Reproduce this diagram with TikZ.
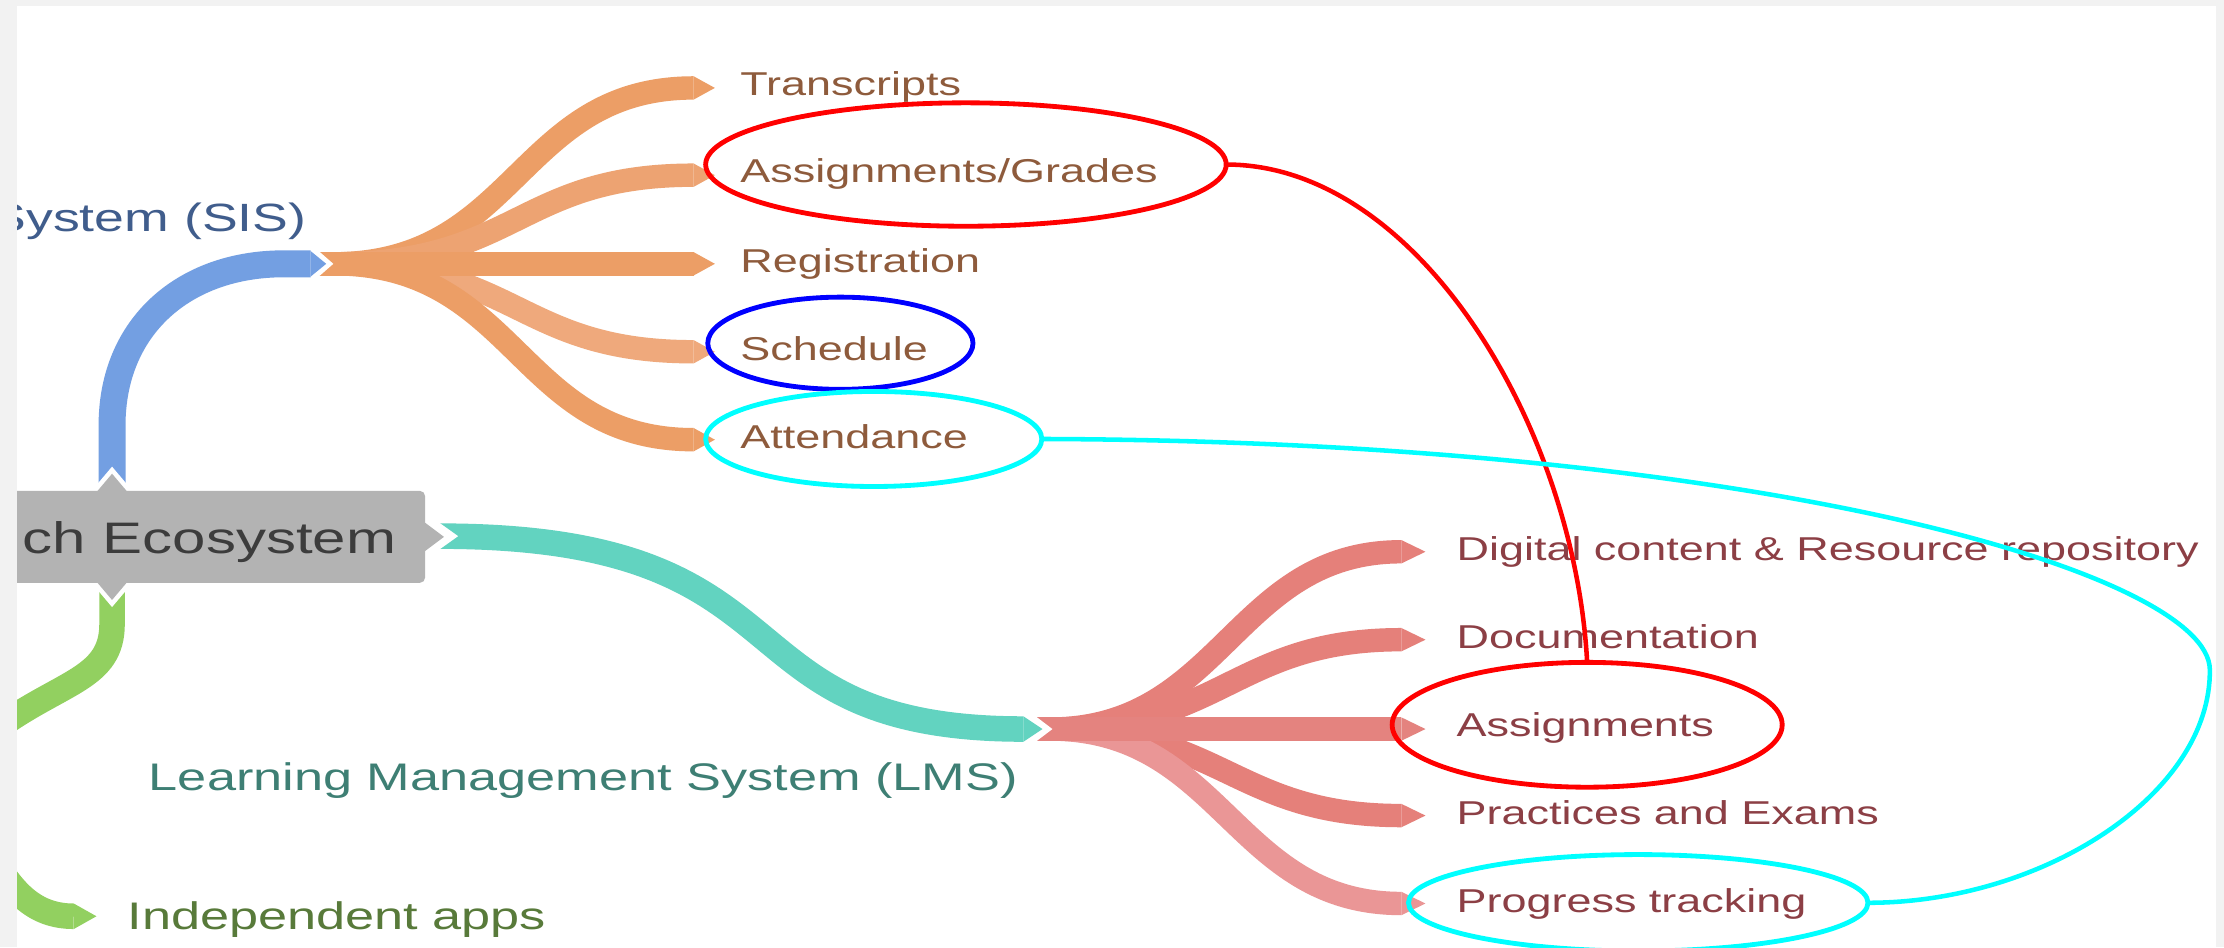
\documentclass[tikz,border=0pt]{standalone}
\usepackage{fontspec}
\setmainfont{Liberation Sans}[FakeStretch=1.36]
\usetikzlibrary{shapes.geometric,calc}
\definecolor{bggray}{HTML}{F2F2F2}
\definecolor{sisblue}{HTML}{739FE2}
\definecolor{orangeA}{HTML}{EC9E66}
\definecolor{orangeB}{HTML}{EDA372}
\definecolor{orangeC}{HTML}{EFA97C}
\definecolor{tealA}{HTML}{62D3C0}
\definecolor{greenA}{HTML}{92D060}
\definecolor{salmonA}{HTML}{E5807A}
\definecolor{salmonB}{HTML}{E4837F}
\definecolor{salmonC}{HTML}{EA9696}
\definecolor{boxgray}{HTML}{B3B3B3}
\definecolor{txtsis}{HTML}{405D8C}
\definecolor{txtorange}{HTML}{8E5B3C}
\definecolor{txtbox}{HTML}{3C3C3C}
\definecolor{txtlms}{HTML}{3E7F74}
\definecolor{txtgreen}{HTML}{587A3A}
\definecolor{txtred}{HTML}{8C3F45}
\definecolor{cyanmark}{HTML}{00FFFF}
\newcommand\tipat[4]{\fill[#1] ([yshift=-#3]#2) -- ([xshift=#4]#2) -- ([yshift=#3]#2) -- cycle;}
\tikzset{
  lbl/.style={inner sep=0pt, outer sep=0pt},
  leafo/.style={lbl, anchor=base west, text=txtorange, font=\fontsize{23.3pt}{28pt}\selectfont},
  leafr/.style={lbl, anchor=base west, text=txtred, font=\fontsize{23.3pt}{28pt}\selectfont},
  ring/.style={ellipse, draw, line width=3.4pt, inner sep=0pt, outer sep=0pt},
  link/.style={line width=3.2pt},
  limb/.style={line width=#1, line cap=butt},
}
\begin{document}
\begin{tikzpicture}[x=1pt,y=-1pt]
\useasboundingbox (0,0) rectangle (1568,668);
\fill[bggray] (0,0) rectangle (1568,668);
\fill[white] (12,4) rectangle (1562,668);
\begin{scope}
\clip (12,4) rectangle (1562,668);
% ---------- coordinates ----------
\coordinate (sisRoot) at (224,186);
\coordinate (o1) at (489,62);
\coordinate (o2) at (489,123.5);
\coordinate (o3) at (489,186);
\coordinate (o4) at (489,248);
\coordinate (o5) at (489,310);
\coordinate (blueStart) at (79,341);
\coordinate (blueEnd) at (219,186);
\coordinate (tealStart) at (310,378);
\coordinate (tealEnd) at (721.5,514);
\coordinate (redRoot) at (728.5,514);
\coordinate (r1) at (988,389);
\coordinate (r2) at (988,451);
\coordinate (r3) at (988,514);
\coordinate (r4) at (988,575);
\coordinate (r5) at (988,637);
\coordinate (greenStart) at (79,416);
% ---------- orange fan (SIS) ----------
\foreach \e/\c in {o1/orangeA,o2/orangeB,o4/orangeC,o5/orangeA}{
  \draw[limb=16.5, \c] (sisRoot) -- ++(11,0) .. controls ($(sisRoot)+(141,0)$) and ($(\e)+(-124,0)$) .. (\e);
  \tipat{\c}{\e}{8.25}{15}
}
\draw[limb=16.5, orangeA] (sisRoot) -- (o3);
\tipat{orangeA}{o3}{8.25}{15}
\fill[white] (223,175.5) -- (235,186) -- (223,196.5) -- cycle;
% ---------- blue branch ----------
\draw[limb=19, sisblue] (blueStart) -- ++(0,-41) .. controls (79,230) and (130,186) .. (200,186) -- (blueEnd);
\tipat{sisblue}{blueEnd}{9}{11}
\fill[white] (68,342) -- (79,329) -- (90,342) -- cycle;
% ---------- green branches ----------
\draw[limb=18, greenA] (greenStart) -- ++(0,24) .. controls (79,478) and (45,480) .. (0,512);
\fill[white] (68,415) -- (79,428) -- (90,415) -- cycle;
\coordinate (greenEnd) at (52,646);
\draw[limb=18, greenA] (-5,605) .. controls (10,630) and (25,646) .. (greenEnd);
\tipat{greenA}{greenEnd}{9}{16}
% ---------- red fan (LMS) ----------
\foreach \e/\c in {r1/salmonA,r2/salmonA,r4/salmonA,r5/salmonC}{
  \draw[limb=16.5, \c] (redRoot) -- ++(11.5,0) .. controls ($(redRoot)+(133.5,0)$) and ($(\e)+(-118,0)$) .. (\e);
  \tipat{\c}{\e}{8.25}{17}
}
\draw[limb=16.5, salmonB] (redRoot) -- (r3);
\tipat{salmonB}{r3}{8.25}{17}
\fill[white] (727.5,503) -- (742,514) -- (727.5,525) -- cycle;
% ---------- teal branch ----------
\draw[limb=18, tealA] (tealStart) .. controls (580,378) and (500,514) .. (tealEnd);
\tipat{tealA}{tealEnd}{9}{13.5}
\fill[white] (309,368) -- (323,378) -- (309,388) -- cycle;
% ---------- central box ----------
\node[fill=boxgray, rounded corners=4pt, anchor=east, minimum width=320pt, minimum height=65pt, inner sep=0pt] (eco) at (300,378.5) {};
\fill[boxgray] (68,347) -- (79,334) -- (90,347) -- cycle;
\fill[boxgray] (68,410) -- (79,423) -- (90,410) -- cycle;
\fill[boxgray] (299,368) -- (313,378.5) -- (299,389) -- cycle;
\node[lbl, anchor=base west, text=txtbox, font=\fontsize{31.1pt}{36pt}\selectfont] (ecoLabel) at (16,390) {ch Ecosystem};
% ---------- labels ----------
\node[lbl, anchor=base east, text=txtsis, font=\fontsize{27.8pt}{32pt}\selectfont] (sisLabel) at (216,163.3) {System (SIS)};
\node[lbl, anchor=base west, text=txtlms, font=\fontsize{27.1pt}{32pt}\selectfont] (lmsLabel) at (105,557.5) {Learning Management System (LMS)};
\node[lbl, anchor=base west, text=txtgreen, font=\fontsize{27.1pt}{32pt}\selectfont] (indLabel) at (90,655) {Independent apps};
\node[leafo] (lTrans) at (522,67.5) {Transcripts};
\node[leafo] (lGrades) at (522,129) {Assignments/Grades};
\node[leafo] (lReg) at (522,192) {Registration};
\node[leafo] (lSched) at (522,254.5) {Schedule};
\node[leafo] (lAttend) at (522,316) {Attendance};
\node[leafr] (lDigital) at (1027,395) {Digital content \& Resource repository};
\node[leafr] (lDoc) at (1027,457) {Documentation};
\node[leafr] (lAssign) at (1027,519) {Assignments};
\node[leafr] (lPract) at (1027,581) {Practices and Exams};
\node[leafr] (lProg) at (1027,643) {Progress tracking};
% ---------- annotation rings ----------
\node[ring, draw=red, minimum width=367pt, minimum height=87pt] (ringGrades) at (681,116) {};
\node[ring, draw=blue, minimum width=187pt, minimum height=65pt] (ringSched) at (592.5,242) {};
\node[ring, draw=cyanmark, minimum width=237pt, minimum height=67pt] (ringAttend) at (616,309.5) {};
\node[ring, draw=red, minimum width=275pt, minimum height=88pt] (ringAssign) at (1119,511) {};
\node[ring, draw=cyanmark, minimum width=324pt, minimum height=68pt] (ringProg) at (1155,636.5) {};
\coordinate (cyanTurn) at (1558,472);
\draw[link, red] (ringGrades.east) .. controls +(135,0) and +(-9,-166) .. (ringAssign.north);
\draw[link, cyanmark] (ringAttend.east) .. controls (1245,311) and (1557,405) .. (cyanTurn) .. controls (1559,560) and (1440,636.5) .. (ringProg.east);
\end{scope}
\end{tikzpicture}
\end{document}
